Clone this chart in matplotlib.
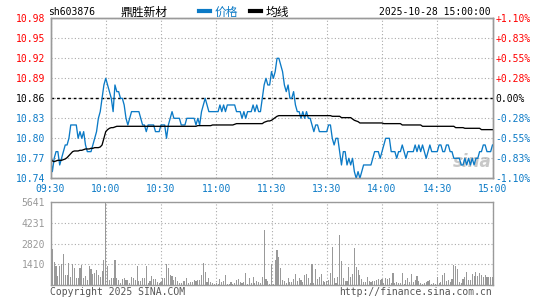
import numpy as np
import matplotlib
matplotlib.use('Agg')
import matplotlib.pyplot as plt
from matplotlib.font_manager import FontProperties

plt.rcParams['font.family'] = ['DejaVu Sans Mono', 'Noto Sans CJK SC']

# ---- data, one value per minute 09:30 .. 15:00 ----
code = 'sh603876'
name = '鼎胜新材'
stamp = '2025-10-28 15:00:00'
prev_close = 10.86

price = [
    10.77, 10.75, 10.77, 10.78, 10.78, 10.76, 10.77, 10.78, 10.79, 10.79,   # 0
    10.80, 10.82, 10.82, 10.82, 10.82, 10.80, 10.81, 10.80, 10.81, 10.79,   # 10
    10.78, 10.78, 10.78, 10.79, 10.80, 10.81, 10.83, 10.84, 10.86, 10.88,   # 20
    10.89, 10.88, 10.87, 10.86, 10.84, 10.88, 10.87, 10.87, 10.86, 10.86,   # 30
    10.85, 10.83, 10.82, 10.83, 10.84, 10.84, 10.84, 10.84, 10.84, 10.83,   # 40
    10.82, 10.82, 10.81, 10.82, 10.82, 10.82, 10.82, 10.81, 10.81, 10.81,   # 50
    10.82, 10.82, 10.82, 10.80, 10.82, 10.83, 10.84, 10.83, 10.83, 10.83,   # 60
    10.83, 10.82, 10.82, 10.82, 10.83, 10.83, 10.83, 10.83, 10.83, 10.82,   # 70
    10.83, 10.82, 10.84, 10.85, 10.86, 10.85, 10.84, 10.84, 10.84, 10.84,   # 80
    10.84, 10.84, 10.85, 10.84, 10.85, 10.84, 10.85, 10.85, 10.85, 10.85,   # 90
    10.85, 10.84, 10.84, 10.84, 10.83, 10.84, 10.83, 10.84, 10.84, 10.84,   # 100
    10.85, 10.84, 10.85, 10.84, 10.84, 10.86, 10.88, 10.89, 10.88, 10.88,   # 110
    10.90, 10.89, 10.90, 10.92, 10.92, 10.91, 10.90, 10.88, 10.87, 10.88,   # 120
    10.86, 10.86, 10.87, 10.85, 10.84, 10.84, 10.83, 10.84, 10.83, 10.84,   # 130
    10.83, 10.83, 10.82, 10.81, 10.82, 10.82, 10.81, 10.81, 10.81, 10.81,   # 140
    10.81, 10.82, 10.82, 10.80, 10.79, 10.80, 10.80, 10.78, 10.76, 10.78,   # 150
    10.78, 10.76, 10.77, 10.76, 10.77, 10.75, 10.74, 10.75, 10.74, 10.75,   # 160
    10.76, 10.76, 10.76, 10.76, 10.76, 10.77, 10.78, 10.78, 10.78, 10.77,   # 170
    10.78, 10.79, 10.80, 10.80, 10.80, 10.78, 10.78, 10.78, 10.77, 10.78,   # 180
    10.78, 10.79, 10.78, 10.77, 10.78, 10.78, 10.78, 10.78, 10.79, 10.78,   # 190
    10.79, 10.78, 10.79, 10.78, 10.77, 10.78, 10.79, 10.78, 10.78, 10.78,   # 200
    10.78, 10.79, 10.79, 10.78, 10.78, 10.79, 10.79, 10.78, 10.78, 10.77,   # 210
    10.77, 10.77, 10.77, 10.76, 10.76, 10.77, 10.76, 10.77, 10.76, 10.77,   # 220
    10.76, 10.77, 10.77, 10.78, 10.78, 10.79, 10.79, 10.78, 10.78, 10.78,   # 230
    10.79,
]

avg = [
    10.772, 10.766, 10.765, 10.766, 10.767, 10.767, 10.767, 10.768, 10.769, 10.771,
    10.774, 10.777, 10.780, 10.781, 10.781, 10.781, 10.782, 10.782, 10.783, 10.784,
    10.784, 10.784, 10.785, 10.785, 10.786, 10.786, 10.786, 10.787, 10.790, 10.800,
    10.810, 10.813, 10.815, 10.816, 10.816, 10.817, 10.818, 10.818, 10.818, 10.818,
    10.818, 10.818, 10.818, 10.818, 10.818, 10.818, 10.818, 10.818, 10.818, 10.818,
    10.818, 10.818, 10.818, 10.818, 10.818, 10.818, 10.818, 10.818, 10.818, 10.818,
    10.818, 10.818, 10.818, 10.818, 10.818, 10.818, 10.818, 10.818, 10.818, 10.818,
    10.818, 10.818, 10.818, 10.818, 10.818, 10.818, 10.818, 10.818, 10.818, 10.818,
    10.819, 10.819, 10.819, 10.819, 10.819, 10.819, 10.819, 10.819, 10.820, 10.820,
    10.820, 10.820, 10.820, 10.820, 10.820, 10.820, 10.820, 10.820, 10.820, 10.820,
    10.821, 10.822, 10.822, 10.822, 10.822, 10.822, 10.822, 10.822, 10.822, 10.822,
    10.822, 10.822, 10.822, 10.822, 10.822, 10.822, 10.824, 10.825, 10.826, 10.826,
    10.827, 10.829, 10.831, 10.833, 10.834, 10.834, 10.834, 10.834, 10.834, 10.834,
    10.834, 10.834, 10.834, 10.834, 10.834, 10.834, 10.834, 10.834, 10.834, 10.834,
    10.834, 10.834, 10.834, 10.834, 10.834, 10.834, 10.834, 10.834, 10.834, 10.834,
    10.834, 10.834, 10.834, 10.833, 10.833, 10.833, 10.833, 10.833, 10.831, 10.831,
    10.831, 10.831, 10.831, 10.831, 10.829, 10.827, 10.826, 10.825, 10.823, 10.823,
    10.823, 10.823, 10.823, 10.823, 10.823, 10.823, 10.823, 10.823, 10.823, 10.823,
    10.823, 10.822, 10.822, 10.822, 10.822, 10.822, 10.822, 10.822, 10.822, 10.822,
    10.822, 10.820, 10.820, 10.820, 10.820, 10.820, 10.820, 10.820, 10.820, 10.820,
    10.820, 10.820, 10.818, 10.818, 10.818, 10.818, 10.818, 10.818, 10.818, 10.818,
    10.818, 10.818, 10.818, 10.818, 10.818, 10.818, 10.818, 10.818, 10.818, 10.818,
    10.816, 10.816, 10.816, 10.816, 10.816, 10.815, 10.815, 10.815, 10.815, 10.815,
    10.815, 10.815, 10.815, 10.815, 10.813, 10.813, 10.813, 10.813, 10.813, 10.813,
    10.813,
]

volume = [
    380, 2450, 1570, 1280, 600, 1330, 1440, 2110, 670, 670,
    1500, 540, 1440, 1170, 490, 490, 1170, 1390, 490, 600,
    360, 1280, 1100, 760, 830, 1010, 720, 560, 940, 1710,
    5641, 1280, 360, 490, 490, 1710, 490, 360, 160, 450,
    490, 360, 360, 180, 560, 490, 360, 1280, 270, 270,
    490, 490, 1280, 160, 270, 600, 430, 430, 220, 135,
    200, 490, 490, 1440, 1170, 720, 650, 380, 560, 270,
    160, 160, 270, 270, 490, 135, 220, 220, 380, 300,
    360, 360, 670, 1500, 900, 220, 490, 220, 180, 90,
    160, 90, 430, 220, 270, 670, 90, 90, 200, 90,
    160, 340, 400, 200, 160, 220, 830, 90, 490, 160,
    560, 160, 310, 200, 160, 560, 3730, 430, 270, 90,
    1440, 90, 1710, 2380, 1910, 1170, 360, 270, 160, 490,
    220, 220, 430, 760, 310, 490, 380, 220, 670, 760,
    490, 160, 1440, 160, 1100, 430, 560, 760, 270, 220,
    310, 380, 830, 2560, 490, 160, 560, 3420, 1660, 490,
    310, 270, 1210, 560, 760, 2520, 1210, 1060, 670, 430,
    220, 220, 560, 310, 220, 270, 310, 380, 430, 380,
    430, 160, 490, 450, 490, 160, 830, 160, 220, 160,
    160, 830, 90, 360, 490, 220, 760, 220, 360, 630,
    310, 160, 90, 160, 220, 270, 380, 90, 160, 90,
    580, 180, 220, 670, 830, 310, 380, 220, 450, 1350,
    1280, 1120, 220, 160, 450, 560, 900, 380, 380, 760,
    650, 900, 600, 830, 720, 580, 720, 580, 580, 580,
    580,
]

price_ticks = [10.98, 10.95, 10.92, 10.89, 10.86, 10.83, 10.80, 10.77, 10.74]
pct_labels = ['+1.10%', '+0.83%', '+0.55%', '+0.28%', '0.00%',
              '-0.28%', '-0.55%', '-0.83%', '-1.10%']
time_ticks = [0, 30, 60, 90, 120, 150, 180, 210, 240]
time_labels = ['09:30', '10:00', '10:30', '11:00', '11:30',
               '13:30', '14:00', '14:30', '15:00']
vol_ticks = [1410, 2820, 4231, 5641]

BLUE = '#0b7ac6'
RED = '#ff0000'
FRAME = '#9a9a9a'
GRID = '#aaaaaa'

minutes = np.arange(len(price))

W, H = 545, 300
fig = plt.figure(figsize=(W / 100, H / 100), dpi=100)
ax = fig.add_axes([50.5 / W, 1 - 178.3 / H, 442 / W, 160 / H])
axv = fig.add_axes([50.5 / W, 1 - 285.3 / H, 442 / W, 83.6 / H])

def tick_color(p):
    if p > prev_close + 1e-9:
        return RED
    if p < prev_close - 1e-9:
        return BLUE
    return 'black'

# price panel
l_price, = ax.plot(minutes, price, color=BLUE, lw=0.95, zorder=3)
l_avg, = ax.plot(minutes, avg, color='black', lw=0.95, zorder=3)
ax.axhline(prev_close, color='black', lw=1.0, ls=(0, (2, 2)), zorder=2)
ax.set_xlim(0, 240)
ax.set_ylim(10.74, 10.98)
ax.set_yticks(price_ticks)
ax.set_yticklabels(['%.2f' % p for p in price_ticks])
ax.set_xticks(time_ticks)
ax.set_xticklabels(time_labels)
ax.grid(True, color=GRID, ls=(0, (1, 2)), lw=0.8)
ax.tick_params(length=0, labelsize=7, pad=4)
ax.tick_params(axis='x', colors=BLUE, pad=4)
for lab, p in zip(ax.get_yticklabels(), price_ticks):
    lab.set_color(tick_color(p))

ax2 = ax.twinx()
ax2.set_ylim(ax.get_ylim())
ax2.set_yticks(price_ticks)
ax2.set_yticklabels(pct_labels)
ax2.tick_params(length=0, labelsize=7, pad=2)
for lab, p in zip(ax2.get_yticklabels(), price_ticks):
    lab.set_color(tick_color(p))

for a in (ax, ax2, axv):
    for s in a.spines.values():
        s.set_color(FRAME)
        s.set_linewidth(1.0)

ax.text(0.955, 0.1, 'sina', transform=ax.transAxes, ha='center', va='center',
        fontsize=12, fontstyle='italic', fontweight='bold', color='#c8c8c8',
        family='DejaVu Sans', zorder=1)

# volume panel
axv.bar(minutes, volume, width=0.6, color='#999999', zorder=3)
axv.set_xlim(0, 240)
axv.set_ylim(0, 5641)
axv.set_yticks(vol_ticks)
axv.set_yticklabels([str(v) for v in vol_ticks])
axv.set_xticks(time_ticks)
axv.set_xticklabels([])
axv.grid(True, color=GRID, ls=(0, (1, 2)), lw=0.8)
axv.tick_params(length=0, labelsize=7, pad=4, colors='#999999')

# header
fig.text(48 / W, 1 - 12 / H, code, fontsize=7, va='center', ha='left')
fig.text(120 / W, 1 - 12 / H, name, fontsize=8.5, va='center', ha='left',
         family=['Noto Sans CJK SC', 'DejaVu Sans'])
fig.text(491 / W, 1 - 12 / H, stamp, fontsize=7, va='center', ha='right')

leg = fig.legend(handles=[l_price, l_avg], labels=['价格', '均线'],
                 loc='center', bbox_to_anchor=(244 / W, 1 - 12 / H), ncol=2,
                 frameon=False, handlelength=0.9, handletextpad=0.4,
                 columnspacing=1.0, borderpad=0,
                 prop=FontProperties(family='Noto Sans CJK SC', size=8.5))
for h in leg.legend_handles:
    h.set_linewidth(3)
leg.get_texts()[0].set_color(BLUE)

# footer
fig.text(50 / W, 1 - 292 / H, 'Copyright 2025 SINA.COM', fontsize=7,
         color='#555555', va='center', ha='left')
fig.text(492 / W, 1 - 292 / H, 'http://finance.sina.com.cn', fontsize=7,
         color='#555555', va='center', ha='right')

fig.savefig('out.png', dpi=100, facecolor='white')
